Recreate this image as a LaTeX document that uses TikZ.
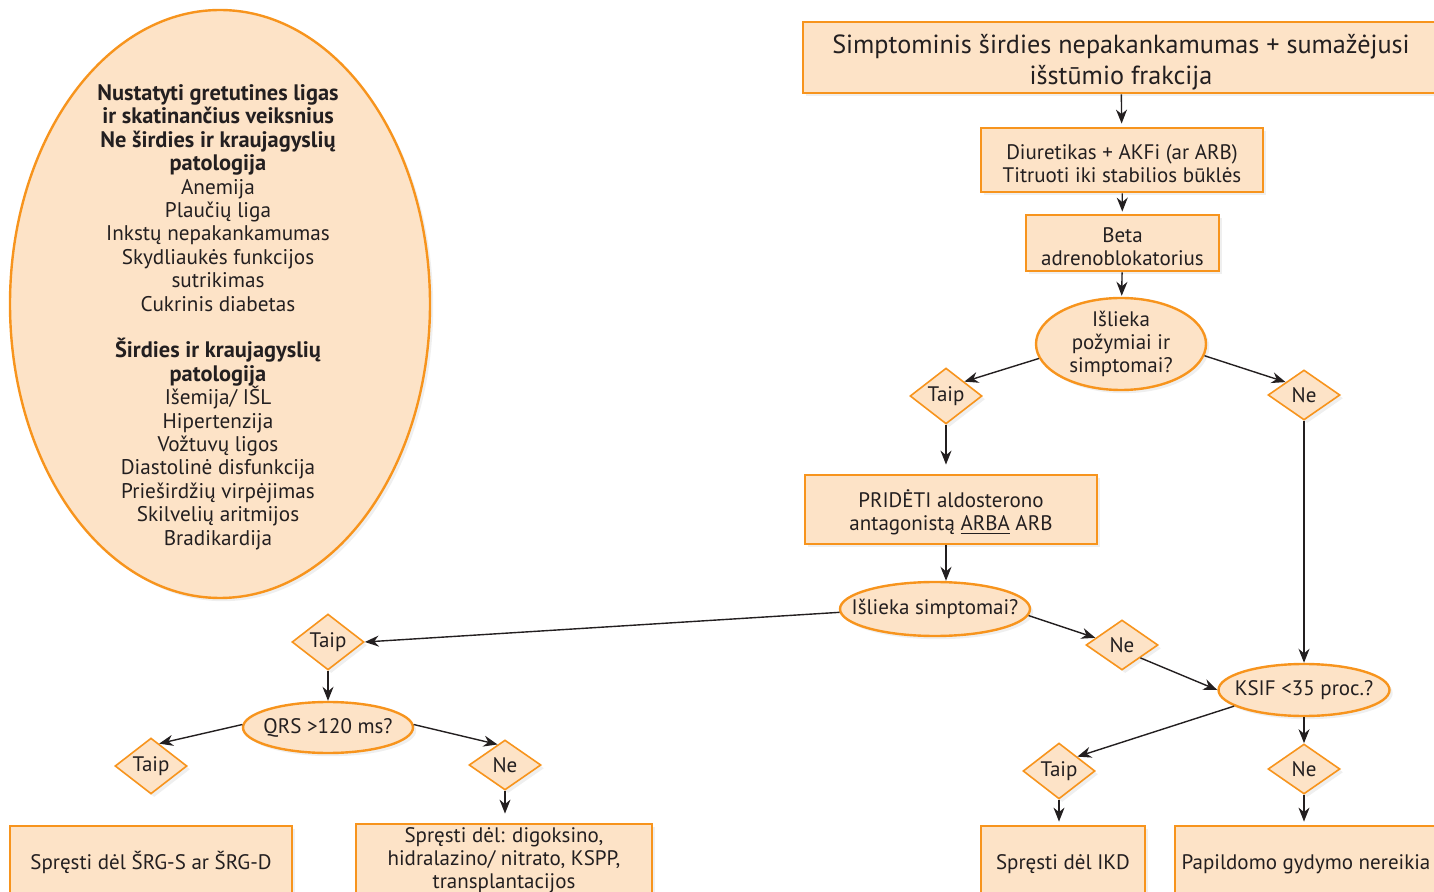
\documentclass[tikz,border=0pt]{standalone}
\definecolor{flowOrange}{HTML}{F7941D}
\definecolor{flowPeach}{HTML}{FDE3C7}
\definecolor{flowText}{HTML}{231F20}
\usepackage{fontspec}
\setmainfont{PT Sans}
\usepackage{tikz}
\usetikzlibrary{arrows.meta, shapes.geometric, shadows}

\newcommand{\headline}[1]{{\fontsize{11.2}{11.7}\selectfont\bfseries #1}}
\newcommand{\lift}[1]{\rule{0pt}{#1}}

\begin{document}
\begin{tikzpicture}[x=0.5pt, y=-0.5pt,
    every node/.style={text=flowText, align=center, font=\fontsize{10.5}{11.5}\selectfont},
    shade/.style={drop shadow={opacity=0.13, shadow xshift=1.6pt, shadow yshift=-1.6pt}},
    stepbox/.style={rectangle, draw=flowOrange, line width=1.4pt, fill=flowPeach, inner sep=0pt, shade},
    question/.style={ellipse, draw=flowOrange, line width=1.2pt, fill=flowPeach, inner xsep=-12pt, inner ysep=-1pt, shade},
    answer/.style={diamond, draw=flowOrange, line width=0.8pt, fill=flowPeach, inner sep=0pt, minimum width=36pt, minimum height=25pt, shade},
    flow/.style={-{Stealth[length=7pt, width=5.5pt]}, line width=0.7pt, draw=flowText}]

    \useasboundingbox (0,0) rectangle (1434,892);

    \node[ellipse, draw=flowOrange, line width=1.2pt, fill=flowPeach, minimum width=210pt, minimum height=294pt, shade] (comorbEll) at (220,304) {};
    \node[font=\fontsize{10.6}{11.7}\selectfont] (comorbText) at (218,317) {%
        \headline{Nustatyti gretutines ligas}\\
        \headline{ir skatinančius veiksnius}\\
        \headline{Ne širdies ir kraujagyslių}\\
        \headline{patologija}\\
        Anemija\\
        Plaučių liga\\
        Inkstų nepakankamumas\\
        Skydliaukės funkcijos\\
        sutrikimas\\
        Cukrinis diabetas\\[11.7pt]
        \headline{Širdies ir kraujagyslių}\\
        \headline{patologija}\\
        Išemija/ IŠL\\
        Hipertenzija\\
        Vožtuvų ligos\\
        Diastolinė disfunkcija\\
        Prieširdžių virpėjimas\\
        Skilvelių aritmijos\\
        Bradikardija};

    \node[stepbox, minimum width=318pt, minimum height=35.5pt, font=\fontsize{13.1}{15.5}\selectfont] (topBox) at (1121,57.5)
        {\lift{14.5pt}Simptominis širdies nepakankamumas + sumažėjusi\\išstūmio frakcija};
    \node[stepbox, minimum width=141pt, minimum height=32pt] (diurBox) at (1122,160)
        {\lift{11pt}Diuretikas + AKFi (ar ARB)\\Titruoti iki stabilios būklės};
    \node[stepbox, minimum width=96.5pt, minimum height=28pt] (betaBox) at (1122.5,243)
        {\lift{11pt}Beta\\adrenoblokatorius};
    \node[question, minimum width=85pt, minimum height=46pt] (signsEll) at (1121,344)
        {Išlieka\\požymiai ir\\simptomai?};
    \node[answer] (taipA) at (946,396) {Taip};
    \node[answer] (neA) at (1304,395) {Ne};
    \node[stepbox, minimum width=146pt, minimum height=34.5pt] (addBox) at (951,509.5)
        {\lift{11.5pt}PRIDĖTI aldosterono\\antagonistą \underline{ARBA} ARB};
    \node[question, minimum width=95pt, minimum height=27pt] (symptEll) at (935,609) {Išlieka simptomai?};
    \node[answer] (taipB) at (328,642) {Taip};
    \node[answer] (neB) at (1122,645) {Ne};
    \node[question, minimum width=85.5pt, minimum height=26pt] (ksifEll) at (1304,690) {KSIF <35 proc.?};
    \node[answer] (taipC) at (1059,771) {Taip};
    \node[answer] (neC) at (1304,769) {Ne};
    \node[question, minimum width=85pt, minimum height=25.5pt] (qrsEll) at (328,727.5) {QRS >120 ms?};
    \node[answer] (taipD) at (151,766) {Taip};
    \node[answer] (neD) at (505,765) {Ne};

    \node[stepbox, minimum width=141pt, minimum height=35pt] (srgBox) at (151,861) {\lift{10.5pt}Spręsti dėl ŠRG-S ar ŠRG-D};
    \node[stepbox, minimum width=148pt, minimum height=36pt] (altBox) at (504,860)
        {Spręsti dėl: digoksino,\\hidralazino/ nitrato, KSPP,\\transplantacijos};
    \node[stepbox, minimum width=82pt, minimum height=35pt] (ikdBox) at (1063,861) {\lift{10.5pt}Spręsti dėl IKD};
    \node[stepbox, minimum width=131pt, minimum height=35pt] (noneBox) at (1306,861) {\lift{10.5pt}Papildomo gydymo nereikia};

    \draw[flow, shorten >=1.5pt] (topBox) -- (diurBox);
    \draw[flow, shorten >=1pt] (diurBox) -- (betaBox);
    \draw[flow, shorten >=0.5pt] (betaBox) -- (signsEll);
    \draw[flow] (signsEll.190) -- (taipA.north east);
    \draw[flow] (signsEll.352) -- (neA.north west);
    \draw[flow, shorten >=4.5pt] (taipA) -- (taipA |- addBox.north);
    \draw[flow] (taipA |- addBox.south) -- (taipA |- symptEll.north);
    \draw[flow] (symptEll.182) -- (taipB.east);
    \draw[flow] (symptEll.356) -- (neB.165);
    \draw[flow] (neB.south east) -- (ksifEll.west);
    \draw[flow] (neA) -- (ksifEll);
    \draw[flow] (ksifEll.193) -- (taipC.north east);
    \draw[flow] (ksifEll) -- (neC);
    \draw[flow, shorten >=1.5pt] (taipC) -- (taipC |- ikdBox.north);
    \draw[flow, shorten >=1.5pt] (neC) -- (neC |- noneBox.north);
    \draw[flow] (taipB) -- (qrsEll);
    \draw[flow] (qrsEll.178) -- (taipD.70);
    \draw[flow] (qrsEll.2) -- (neD.110);
    \draw[flow, shorten >=4.5pt] (neD) -- (neD |- altBox.north);
\end{tikzpicture}
\end{document}
